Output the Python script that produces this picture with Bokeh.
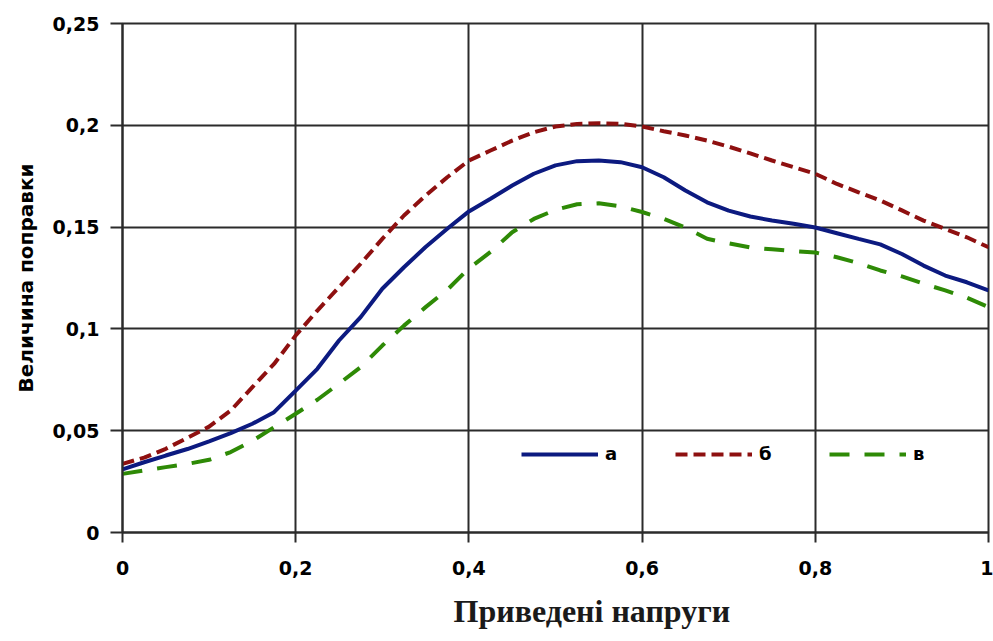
from bokeh.plotting import figure
from bokeh.models import (Range1d, FixedTicker, CustomJSTickFormatter, Legend,
                          LegendItem, Title)
from bokeh.embed import file_html
from bokeh.resources import INLINE

# ---- data ----
x_vals = [0.0, 0.025, 0.05, 0.075, 0.1, 0.125, 0.15, 0.175, 0.2, 0.225,
          0.25, 0.275, 0.3, 0.325, 0.35, 0.375, 0.4, 0.425, 0.45, 0.475,
          0.5, 0.525, 0.55, 0.575, 0.6, 0.625, 0.65, 0.675, 0.7, 0.725,
          0.75, 0.775, 0.8, 0.825, 0.85, 0.875, 0.9, 0.925, 0.95, 0.975, 1.0]
series_a = [0.0310, 0.0345, 0.0378, 0.0410, 0.0448, 0.0488, 0.0534, 0.0591, 0.0697, 0.0804,
            0.0943, 0.1058, 0.1197, 0.1303, 0.1402, 0.1492, 0.1577, 0.1639, 0.1704, 0.1762,
            0.1803, 0.1824, 0.1827, 0.1819, 0.1794, 0.1745, 0.1680, 0.1622, 0.1581, 0.1552,
            0.1532, 0.1516, 0.1498, 0.1470, 0.1442, 0.1415, 0.1368, 0.1311, 0.1262, 0.1229,
            0.1189]
series_b = [0.0337, 0.0368, 0.0411, 0.0465, 0.0520, 0.0599, 0.0714, 0.0828, 0.0968, 0.1090,
            0.1205, 0.1320, 0.1442, 0.1557, 0.1655, 0.1745, 0.1827, 0.1876, 0.1925, 0.1966,
            0.1994, 0.2007, 0.2010, 0.2007, 0.1994, 0.1971, 0.1950, 0.1925, 0.1895, 0.1862,
            0.1827, 0.1794, 0.1762, 0.1712, 0.1671, 0.1631, 0.1582, 0.1532, 0.1491, 0.1450,
            0.1401]
series_c = [0.0288, 0.0305, 0.0321, 0.0337, 0.0357, 0.0395, 0.0450, 0.0517, 0.0583, 0.0652,
            0.0731, 0.0812, 0.0918, 0.1016, 0.1107, 0.1192, 0.1297, 0.1378, 0.1475, 0.1540,
            0.1585, 0.1612, 0.1617, 0.1602, 0.1574, 0.1541, 0.1497, 0.1443, 0.1420, 0.1400,
            0.1391, 0.1382, 0.1375, 0.1352, 0.1323, 0.1287, 0.1258, 0.1222, 0.1189, 0.1153,
            0.1107]
labels = ["а", "б", "в"]
x_ticks = [0, 0.2, 0.4, 0.6, 0.8, 1.0]
y_ticks = [0, 0.05, 0.1, 0.15, 0.2, 0.25]
x_title = "Приведені напруги"
y_title = "Величина поправки"

GRID = "#2b2b2b"
SANS = "DejaVu Sans"

p = figure(width=993, height=641, output_backend="svg", toolbar_location=None,
           x_range=Range1d(0, 1), y_range=Range1d(0, 0.25),
           min_border_left=122, min_border_right=5, min_border_top=23,
           min_border_bottom=109)
p.background_fill_color = "white"
p.border_fill_color = "white"
p.outline_line_color = GRID
p.outline_line_width = 2

fmt = CustomJSTickFormatter(code="""
var s = tick.toFixed(2).replace(/0+$/, '').replace(/\\.$/, '');
return s.replace('.', ',');
""")

for ax, ticks in ((p.xaxis[0], x_ticks), (p.yaxis[0], y_ticks)):
    ax.ticker = FixedTicker(ticks=ticks)
    ax.formatter = fmt
    ax.axis_line_color = GRID
    ax.axis_line_width = 2
    ax.major_tick_line_color = GRID
    ax.major_tick_line_width = 2
    ax.major_tick_in = 0
    ax.minor_tick_line_color = None
    ax.major_label_text_font = SANS
    ax.major_label_text_font_style = "bold"
    ax.major_label_text_font_size = "19px"
    ax.major_label_text_color = "black"

p.xaxis.major_tick_out = 10
p.xaxis.major_label_standoff = 18
p.yaxis.major_tick_out = 12
p.yaxis.major_label_standoff = 11

p.yaxis.axis_label = y_title
p.yaxis.axis_label_text_font = SANS
p.yaxis.axis_label_text_font_style = "bold"
p.yaxis.axis_label_text_font_size = "20px"
p.yaxis.axis_label_text_color = "black"
p.yaxis.axis_label_standoff = 12

p.xgrid.ticker = FixedTicker(ticks=x_ticks)
p.ygrid.ticker = FixedTicker(ticks=y_ticks)
for g in (p.xgrid[0], p.ygrid[0]):
    g.grid_line_color = GRID
    g.grid_line_width = 2

ra = p.line(x_vals, series_a, line_color="#0c1a80", line_width=4)
rb = p.line(x_vals, series_b, line_color="#8e1010", line_width=4, line_dash="12 6")
rc = p.line(x_vals, series_c, line_color="#2e8a06", line_width=4, line_dash="20 15")

legend = Legend(items=[LegendItem(label=labels[0], renderers=[ra]),
                       LegendItem(label=labels[1], renderers=[rb]),
                       LegendItem(label=labels[2], renderers=[rc])],
                orientation="horizontal", location=(399, 68),
                glyph_width=77, glyph_height=20, label_standoff=7, spacing=50,
                padding=0, margin=0, border_line_color=None,
                background_fill_alpha=0,
                label_text_font=SANS, label_text_font_style="bold",
                label_text_font_size="18px", label_text_color="black")
p.add_layout(legend, "center")

t = Title(text=x_title, align="left", offset=331, standoff=26,
          vertical_align="bottom",
          text_font="Liberation Serif", text_font_style="bold",
          text_font_size="32px", text_color="#1a1a1a")
p.add_layout(t, "below")

open("out.html", "w").write(file_html(p, INLINE))
